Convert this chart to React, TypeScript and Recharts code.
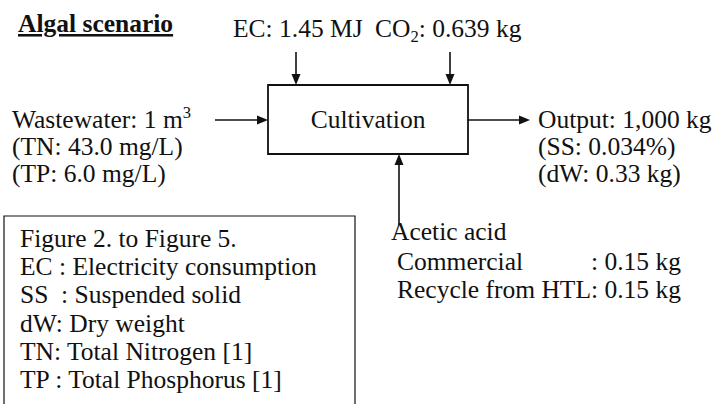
import React from 'react';
import { ScatterChart, Scatter, XAxis, YAxis, ReferenceArea, ReferenceLine } from 'recharts';

// text content of the diagram ("^x" = superscript, "_x" = subscript)
const title = 'Algal scenario';
const processName = 'Cultivation';
const topInputs = ['EC: 1.45 MJ', 'CO_2: 0.639 kg'];
const wastewater = ['Wastewater: 1 m^3', '(TN: 43.0 mg/L)', '(TP: 6.0 mg/L)'];
const output = ['Output: 1,000 kg', '(SS: 0.034%)', '(dW: 0.33 kg)'];
const aceticTitle = 'Acetic acid';
const aceticSources = ['Commercial', 'Recycle from HTL'];
const aceticAmounts = ['0.15 kg', '0.15 kg'];
const glossary = [
  'Figure 2. to Figure 5.',
  'EC : Electricity consumption',
  'SS  : Suspended solid',
  'dW: Dry weight',
  'TN: Total Nitrogen [1]',
  'TP : Total Phosphorus [1]',
];

const W = 720;
const H = 404;
const FONT = '"Liberation Serif", "Times New Roman", serif';
const FS = 25.5;
const INK = '#111';

type Item = { x: number; y: number; text: string; anchor?: 'start' | 'middle' | 'end'; bold?: boolean; underline?: boolean };

function RichText({ x, y, item }: { x: number; y: number; item: Item }) {
  const parts = item.text.split(/(\^\S|_\S)/).filter((p) => p !== '');
  let shift = 0;
  return (
    <text
      x={x}
      y={y}
      textAnchor={item.anchor || 'start'}
      fontFamily={FONT}
      fontSize={FS}
      fontWeight={item.bold ? 'bold' : 'normal'}
      textDecoration={item.underline ? 'underline' : undefined}
      fill={INK}
      style={{ whiteSpace: 'pre' }}
    >
      {parts.map((p, i) => {
        let target = 0;
        let size = FS;
        let t = p;
        if (p[0] === '^' && p.length === 2) {
          target = -10;
          size = FS * 0.65;
          t = p.slice(1);
        } else if (p[0] === '_' && p.length === 2) {
          target = 5;
          size = FS * 0.65;
          t = p.slice(1);
        }
        const dy = target - shift;
        shift = target;
        return (
          <tspan key={i} dy={dy} fontSize={size}>
            {t}
          </tspan>
        );
      })}
    </text>
  );
}

const Arrow = (p: any) => {
  const { x1, y1, x2, y2 } = p;
  const dx = x2 - x1;
  const dy = y2 - y1;
  const len = Math.hypot(dx, dy) || 1;
  const ux = dx / len;
  const uy = dy / len;
  const hl = 11;
  const hw = 4.5;
  const bx = x2 - ux * hl;
  const by = y2 - uy * hl;
  const pts = `${x2},${y2} ${bx - uy * hw},${by + ux * hw} ${bx + uy * hw},${by - ux * hw}`;
  return (
    <g>
      <line x1={x1} y1={y1} x2={bx} y2={by} stroke={INK} strokeWidth={1.6} />
      <polygon points={pts} fill={INK} />
    </g>
  );
};

export default function App() {
  const lh = 27;
  const items: Item[] = [
    { x: 18, y: 32, text: title, bold: true, underline: true },
    { x: 233, y: 37, text: topInputs[0] },
    { x: 375, y: 37, text: topInputs[1] },
    { x: 368, y: 128, text: processName, anchor: 'middle' },
    ...wastewater.map((t, i) => ({ x: 12, y: 128 + i * lh, text: t })),
    ...output.map((t, i) => ({ x: 538, y: 128 + i * lh, text: t })),
    { x: 391, y: 240, text: aceticTitle },
    // first source has its colon pushed out to line up with the second one
    { x: 397, y: 270, text: aceticSources[0] },
    { x: 591, y: 270, text: ': ' + aceticAmounts[0] },
    { x: 397, y: 298, text: aceticSources[1] + ': ' + aceticAmounts[1] },
    ...glossary.map((t, i) => ({ x: 20, y: 247 + i * 28.2, text: t })),
  ];

  const arrows = [
    [296, 52, 296, 85],
    [450, 52, 450, 85],
    [215, 120, 268, 120],
    [468, 120, 530, 120],
    [399, 225, 399, 154],
  ];

  return (
    <div style={{ position: 'absolute', left: 0, top: 0, background: '#fff' }}>
      <ScatterChart width={W} height={H} margin={{ top: 0, right: 0, bottom: 0, left: 0 }}>
        <XAxis hide type="number" dataKey="x" domain={[0, W]} />
        <YAxis hide type="number" dataKey="y" domain={[0, H]} reversed />
        <ReferenceArea x1={268} x2={468} y1={85} y2={154} fill="none" stroke={INK} strokeWidth={1.8} ifOverflow="visible" />
        <ReferenceArea x1={4} x2={355} y1={216} y2={440} fill="none" stroke={INK} strokeWidth={1.2} ifOverflow="visible" />
        {arrows.map((a, i) => (
          <ReferenceLine
            key={i}
            segment={[{ x: a[0], y: a[1] }, { x: a[2], y: a[3] }]}
            ifOverflow="visible"
            shape={Arrow}
          />
        ))}
        <Scatter
          data={items}
          isAnimationActive={false}
          shape={(p: any) => <RichText x={p.cx} y={p.cy} item={p.payload} />}
        />
      </ScatterChart>
    </div>
  );
}
